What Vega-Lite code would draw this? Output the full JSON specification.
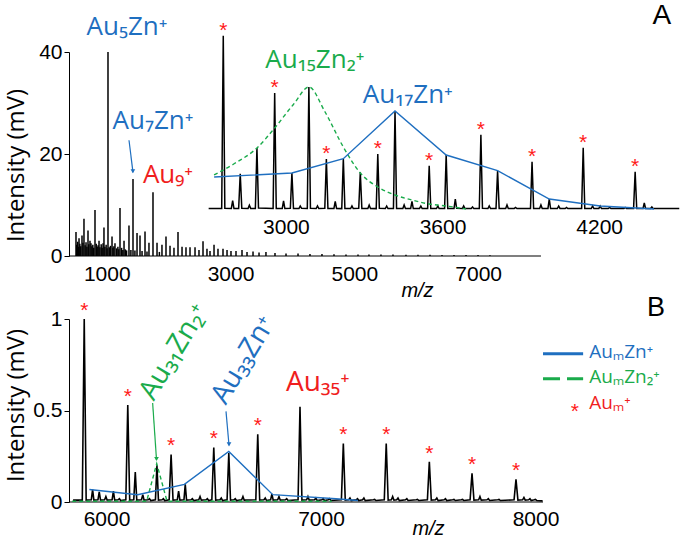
{
"$schema": "https://vega.github.io/schema/vega-lite/v6.json",
"padding": {"left": 4, "top": 1, "right": 0, "bottom": 0},
"background": "white",
"spacing": 63,
"bounds": "flush",
"config": {
  "view": {"stroke": null},
  "axis": {"labelFont": "Liberation Sans", "labelFontSize": 21, "labelColor": "black", "titleColor": "black", "domainColor": "black", "tickColor": "black", "grid": false},
  "text": {"font": "Open Sans"}
},
"vconcat": [
{
  "width": 610, "height": 204,
  "resolve": {"scale": {"x": "independent", "y": "independent"}, "axis": {"x": "independent", "y": "independent"}},
  "layer": [
    {"layer": [
      {"data": {"values": [
        {"mz":503,"h":4.7},{"mz":515,"h":2.2},{"mz":530,"h":2.8},{"mz":545,"h":1.8},{"mz":552,"h":3.5},{"mz":565,"h":2.4},{"mz":580,"h":1.9},{"mz":600,"h":4},{"mz":615,"h":2.6},{"mz":632,"h":7.3},{"mz":650,"h":2.1},{"mz":665,"h":2.7},{"mz":680,"h":1.8},{"mz":697,"h":5},{"mz":710,"h":2.3},{"mz":729,"h":3},{"mz":745,"h":2.5},{"mz":760,"h":1.9},{"mz":775,"h":2.2},{"mz":790,"h":1.6},{"mz":810,"h":9},{"mz":830,"h":2.4},{"mz":845,"h":1.8},{"mz":860,"h":2.1},{"mz":875,"h":3},{"mz":890,"h":1.7},{"mz":910,"h":2.3},{"mz":925,"h":1.6},{"mz":940,"h":2.5},{"mz":955,"h":5.6},{"mz":970,"h":1.8},{"mz":990,"h":2.2},{"mz":1005,"h":1.5},{"mz":1020,"h":40},{"mz":1040,"h":1.7},{"mz":1060,"h":2},{"mz":1085,"h":3.8},{"mz":1100,"h":1.6},{"mz":1115,"h":1.9},{"mz":1133,"h":2.5},{"mz":1160,"h":1.5},{"mz":1180,"h":1.8},{"mz":1195,"h":1.3},{"mz":1214,"h":9.4},{"mz":1240,"h":1.6},{"mz":1260,"h":1.2},{"mz":1279,"h":3},{"mz":1300,"h":1.3},{"mz":1320,"h":1.1},{"mz":1359,"h":6},{"mz":1390,"h":1.2},{"mz":1424,"h":15.1},{"mz":1455,"h":1.1},{"mz":1489,"h":4.5},{"mz":1537,"h":4},{"mz":1570,"h":1},{"mz":1618,"h":4.8},{"mz":1650,"h":0.9},{"mz":1682,"h":2.6},{"mz":1747,"h":12.5},{"mz":1812,"h":2.6},{"mz":1850,"h":0.8},{"mz":1892,"h":2.2},{"mz":1957,"h":3.8},{"mz":2022,"h":2},{"mz":2086,"h":1.6},{"mz":2151,"h":4.7},{"mz":2216,"h":1.8},{"mz":2280,"h":1.7},{"mz":2345,"h":1.7},{"mz":2426,"h":1.7},{"mz":2490,"h":1.2},{"mz":2555,"h":2.9},{"mz":2619,"h":1.4},{"mz":2668,"h":1.0},{"mz":2733,"h":2.2},{"mz":2797,"h":1.4},{"mz":2878,"h":1.4},{"mz":2943,"h":1.2},{"mz":3007,"h":1.0},{"mz":3088,"h":1.0},{"mz":3185,"h":1.2},{"mz":3266,"h":0.8},{"mz":3363,"h":0.9},{"mz":3460,"h":0.7},{"mz":3572,"h":0.8},{"mz":3718,"h":0.6},{"mz":3896,"h":0.5},{"mz":4090,"h":0.5},{"mz":4283,"h":0.4},{"mz":4477,"h":0.4},{"mz":4671,"h":0.35},{"mz":4865,"h":0.3},{"mz":5059,"h":0.3},{"mz":5236,"h":0.3},{"mz":5430,"h":0.3},{"mz":5624,"h":0.3},{"mz":5834,"h":0.25},{"mz":6028,"h":0.25},{"mz":6222,"h":0.25},{"mz":6416,"h":0.2},{"mz":6610,"h":0.2},{"mz":6804,"h":0.2},{"mz":6998,"h":0.2},{"mz":7191,"h":0.15}
      ]},
       "mark": {"type": "rule", "color": "black", "strokeWidth": 1.5},
       "encoding": {
         "x": {"field": "mz", "type": "quantitative", "scale": {"domain": [390, 10245], "nice": false, "zero": false},
               "axis": {"values": [1000, 3000, 5000, 7000], "format": "d", "domain": false, "ticks": false, "tickSize": 0, "labelPadding": 7, "title": "m/z", "titleFont": "Liberation Sans", "titleFontStyle": "italic", "titleFontSize": 20, "titleFontWeight": "normal", "titleX": 348, "titleY": 34, "titleBaseline": "middle", "titleAlign": "center"}},
         "y": {"field": "h", "type": "quantitative", "scale": {"domain": [0, 40], "nice": false},
               "axis": {"values": [0, 20, 40], "tickSize": 5, "labelPadding": 2, "title": "Intensity (mV)", "titleFont": "Open Sans", "titleFontSize": 24, "titleFontWeight": "normal", "titleX": -46, "titleY": 113, "titleAngle": 270, "titleBaseline": "alphabetic", "titleAlign": "center"}},
         "y2": {"datum": 0}
       }},
      {"data": {"values": [{"mz": 390, "mz2": 8015, "h": 0}]},
       "mark": {"type": "rule", "color": "black", "strokeWidth": 1.2},
       "encoding": {"x": {"field": "mz", "type": "quantitative"}, "x2": {"field": "mz2"}, "y": {"field": "h", "type": "quantitative"}}},
      {"data": {"values": [{"mz": 1327, "h": 44.9, "label": "Au₅Zn⁺"}, {"mz": 1747, "h": 26.5, "label": "Au₇Zn⁺"}]},
       "mark": {"type": "text", "font": "Open Sans", "fontSize": 26, "color": "#1f6fc0", "align": "center", "baseline": "middle"},
       "encoding": {"x": {"field": "mz", "type": "quantitative"}, "y": {"field": "h", "type": "quantitative"}, "text": {"field": "label"}}},
      {"data": {"values": [{"mz": 1989, "h": 15.9, "label": "Au₉⁺"}]},
       "mark": {"type": "text", "font": "Open Sans", "fontSize": 26, "color": "#f01e1e", "align": "center", "baseline": "middle"},
       "encoding": {"x": {"field": "mz", "type": "quantitative"}, "y": {"field": "h", "type": "quantitative"}, "text": {"field": "label"}}},
      {"data": {"values": [{"mz": 1359, "h": 22.7, "mz2": 1424, "h2": 16.4}]},
       "mark": {"type": "rule", "color": "#1f6fc0", "strokeWidth": 1.2},
       "encoding": {"x": {"field": "mz", "type": "quantitative"}, "y": {"field": "h", "type": "quantitative"}, "x2": {"field": "mz2"}, "y2": {"field": "h2"}}},
      {"data": {"values": [{"mz": 1422, "h": 16.6}]},
       "mark": {"type": "point", "shape": "triangle-down", "filled": true, "size": 22, "color": "#1f6fc0", "opacity": 1},
       "encoding": {"x": {"field": "mz", "type": "quantitative"}, "y": {"field": "h", "type": "quantitative"}}}
    ]},
    {"layer": [
      {"data": {"values": [
        {"mz":2704,"v":0.5},
        {"mz":2754,"v":0.5},{"mz":2760,"v":173.3},{"mz":2766,"v":0.8},
        {"mz":2791,"v":0.6},{"mz":2796,"v":8.3},{"mz":2801,"v":0.5},
        {"mz":2819,"v":0.5},{"mz":2825,"v":35.3},{"mz":2831,"v":0.7},
        {"mz":2855,"v":0.4},{"mz":2860,"v":3.7},{"mz":2865,"v":0.6},
        {"mz":2883,"v":0.5},{"mz":2889,"v":61},{"mz":2895,"v":0.9},
        {"mz":2951,"v":0.5},{"mz":2957,"v":116},{"mz":2963,"v":0.6},
        {"mz":2986,"v":0.5},{"mz":2991,"v":8},{"mz":2996,"v":0.4},
        {"mz":3017,"v":0.6},{"mz":3023,"v":36},{"mz":3029,"v":0.5},
        {"mz":3050,"v":0.4},{"mz":3055,"v":3},{"mz":3060,"v":0.7},
        {"mz":3082,"v":0.5},{"mz":3088,"v":122},{"mz":3094,"v":0.6},
        {"mz":3116,"v":0.4},{"mz":3121,"v":3},{"mz":3126,"v":0.5},
        {"mz":3149,"v":0.7},{"mz":3155,"v":50},{"mz":3161,"v":0.5},
        {"mz":3184,"v":0.5},{"mz":3189,"v":7.7},{"mz":3194,"v":0.6},
        {"mz":3214,"v":0.4},{"mz":3220,"v":50.3},{"mz":3226,"v":0.6},
        {"mz":3248,"v":0.5},{"mz":3253,"v":3},{"mz":3258,"v":0.4},
        {"mz":3279,"v":0.6},{"mz":3285,"v":36.7},{"mz":3291,"v":0.5},
        {"mz":3314,"v":0.5},{"mz":3319,"v":4},{"mz":3324,"v":0.6},
        {"mz":3346,"v":0.4},{"mz":3352,"v":55},{"mz":3358,"v":0.7},
        {"mz":3381,"v":0.5},{"mz":3386,"v":3},{"mz":3391,"v":0.5},
        {"mz":3412,"v":0.6},{"mz":3418,"v":98},{"mz":3424,"v":0.5},
        {"mz":3448,"v":0.4},{"mz":3453,"v":4},{"mz":3458,"v":0.6},
        {"mz":3478,"v":0.5},{"mz":3483,"v":7.7},{"mz":3488,"v":0.4},
        {"mz":3512,"v":0.6},{"mz":3517,"v":3},{"mz":3522,"v":0.5},
        {"mz":3543,"v":0.5},{"mz":3549,"v":43.3},{"mz":3555,"v":0.6},
        {"mz":3577,"v":0.4},{"mz":3582,"v":3},{"mz":3587,"v":0.5},
        {"mz":3608,"v":0.6},{"mz":3614,"v":54},{"mz":3620,"v":0.5},
        {"mz":3644,"v":0.5},{"mz":3649,"v":10},{"mz":3654,"v":0.7},
        {"mz":3676,"v":0.4},{"mz":3681,"v":3},{"mz":3686,"v":0.5},
        {"mz":3710,"v":0.6},{"mz":3715,"v":2},{"mz":3720,"v":0.4},
        {"mz":3741,"v":0.5},{"mz":3747,"v":74.3},{"mz":3753,"v":0.6},
        {"mz":3774,"v":0.4},{"mz":3779,"v":3},{"mz":3784,"v":0.5},
        {"mz":3805,"v":0.6},{"mz":3811,"v":38.3},{"mz":3817,"v":0.5},
        {"mz":3842,"v":0.5},{"mz":3847,"v":4},{"mz":3852,"v":0.4},
        {"mz":3875,"v":0.6},{"mz":3880,"v":1.5},{"mz":3885,"v":0.5},
        {"mz":3937,"v":0.4},{"mz":3943,"v":47.3},{"mz":3949,"v":0.6},
        {"mz":3972,"v":0.5},{"mz":3977,"v":4},{"mz":3982,"v":0.4},
        {"mz":4004,"v":0.6},{"mz":4009,"v":10},{"mz":4014,"v":0.5},
        {"mz":4040,"v":0.4},{"mz":4045,"v":3},{"mz":4050,"v":0.6},
        {"mz":4070,"v":0.5},{"mz":4075,"v":1.5},{"mz":4080,"v":0.4},
        {"mz":4133,"v":0.6},{"mz":4139,"v":61.3},{"mz":4145,"v":0.5},
        {"mz":4170,"v":0.4},{"mz":4175,"v":3},{"mz":4180,"v":0.5},
        {"mz":4199,"v":0.6},{"mz":4204,"v":3},{"mz":4209,"v":0.4},
        {"mz":4235,"v":0.5},{"mz":4240,"v":1.5},{"mz":4245,"v":0.6},
        {"mz":4295,"v":0.4},{"mz":4300,"v":1.5},{"mz":4305,"v":0.5},
        {"mz":4332,"v":0.6},{"mz":4338,"v":37.3},{"mz":4344,"v":0.5},
        {"mz":4368,"v":0.4},{"mz":4373,"v":6},{"mz":4378,"v":0.5},
        {"mz":4397,"v":0.6},{"mz":4402,"v":2},{"mz":4407,"v":0.4},
        {"mz":4507,"v":0.5}
      ]},
       "mark": {"type": "line", "color": "black", "strokeWidth": 1.5},
       "encoding": {
         "x": {"field": "mz", "type": "quantitative", "scale": {"domain": [2169, 4506], "nice": false, "zero": false},
               "axis": {"orient": "bottom", "offset": -47, "values": [3000, 3600, 4200], "format": "d", "domain": false, "ticks": false, "tickSize": 0, "labelPadding": 7, "title": null}},
         "y": {"field": "v", "type": "quantitative", "scale": {"domain": [-47, 157], "nice": false, "zero": false}, "axis": null}
       }},
      {"data": {"values": [
        {"mz":2725,"v":34},{"mz":2800,"v":45},{"mz":2889,"v":61},{"mz":2957,"v":81},{"mz":3030,"v":105},{"mz":3088,"v":122},{"mz":3150,"v":97},{"mz":3220,"v":62},{"mz":3285,"v":36},{"mz":3352,"v":22},{"mz":3418,"v":14},{"mz":3483,"v":9},{"mz":3549,"v":5},{"mz":3614,"v":3},{"mz":3690,"v":0}
      ]},
       "mark": {"type": "line", "color": "#1aab4b", "strokeWidth": 1.4, "strokeDash": [4, 3], "interpolate": "monotone"},
       "encoding": {"x": {"field": "mz", "type": "quantitative"}, "y": {"field": "v", "type": "quantitative"}}},
      {"data": {"values": [
        {"mz":2725,"v":32},{"mz":3023,"v":36},{"mz":3220,"v":50.3},{"mz":3418,"v":98},{"mz":3614,"v":54},{"mz":3811,"v":38.3},{"mz":4009,"v":10},{"mz":4204,"v":3},{"mz":4410,"v":0}
      ]},
       "mark": {"type": "line", "color": "#1f6fc0", "strokeWidth": 1.4},
       "encoding": {"x": {"field": "mz", "type": "quantitative"}, "y": {"field": "v", "type": "quantitative"}}},
      {"data": {"values": [
        {"mz":2760,"v":173.3},{"mz":2957,"v":116},{"mz":3155,"v":50},{"mz":3352,"v":55},{"mz":3549,"v":43.3},{"mz":3747,"v":74.3},{"mz":3943,"v":47.3},{"mz":4139,"v":61.3},{"mz":4338,"v":37.3}
      ]},
       "mark": {"type": "text", "text": "*", "font": "Liberation Sans", "fontSize": 21, "color": "#ff1a1a", "align": "center", "baseline": "alphabetic", "dy": 1},
       "encoding": {"x": {"field": "mz", "type": "quantitative"}, "y": {"field": "v", "type": "quantitative"}}},
      {"data": {"values": [{"mz": 3111, "v": 149, "label": "Au₁₅Zn₂⁺"}]},
       "mark": {"type": "text", "font": "Open Sans", "fontSize": 26, "color": "#1aab4b", "align": "center", "baseline": "middle"},
       "encoding": {"x": {"field": "mz", "type": "quantitative"}, "y": {"field": "v", "type": "quantitative"}, "text": {"field": "label"}}},
      {"data": {"values": [{"mz": 3467, "v": 114, "label": "Au₁₇Zn⁺"}]},
       "mark": {"type": "text", "font": "Open Sans", "fontSize": 26, "color": "#1f6fc0", "align": "center", "baseline": "middle"},
       "encoding": {"x": {"field": "mz", "type": "quantitative"}, "y": {"field": "v", "type": "quantitative"}, "text": {"field": "label"}}},
      {"data": {"values": [{"mz": 4440, "v": 193, "label": "A"}]},
       "mark": {"type": "text", "font": "Liberation Sans", "fontSize": 28, "color": "black", "align": "center", "baseline": "middle"},
       "encoding": {"x": {"field": "mz", "type": "quantitative"}, "y": {"field": "v", "type": "quantitative"}, "text": {"field": "label"}}}
    ]}
  ]
},
{
  "width": 610, "height": 183,
  "layer": [
    {"data": {"values": [
      {"mz":5844,"h":0.01},
      {"mz":5887,"h":0.01},{"mz":5896,"h":1.0},{"mz":5905,"h":0.01},
      {"mz":5929,"h":0.012},{"mz":5935,"h":0.068},{"mz":5941,"h":0.01},
      {"mz":5960,"h":0.012},{"mz":5966,"h":0.055},{"mz":5972,"h":0.01},
      {"mz":5991,"h":0.012},{"mz":5997,"h":0.03},{"mz":6003,"h":0.01},
      {"mz":6026,"h":0.012},{"mz":6032,"h":0.06},{"mz":6038,"h":0.01},
      {"mz":6054,"h":0.012},{"mz":6060,"h":0.018},{"mz":6066,"h":0.008},
      {"mz":6090,"h":0.012},{"mz":6099,"h":0.53},{"mz":6108,"h":0.01},
      {"mz":6127,"h":0.012},{"mz":6134,"h":0.164},{"mz":6141,"h":0.01},
      {"mz":6163,"h":0.012},{"mz":6169,"h":0.04},{"mz":6175,"h":0.01},
      {"mz":6194,"h":0.012},{"mz":6200,"h":0.018},{"mz":6206,"h":0.008},
      {"mz":6228,"h":0.012},{"mz":6235,"h":0.2},{"mz":6242,"h":0.01},
      {"mz":6259,"h":0.012},{"mz":6265,"h":0.018},{"mz":6271,"h":0.008},
      {"mz":6292,"h":0.012},{"mz":6301,"h":0.26},{"mz":6310,"h":0.01},
      {"mz":6330,"h":0.012},{"mz":6336,"h":0.06},{"mz":6342,"h":0.01},
      {"mz":6361,"h":0.012},{"mz":6367,"h":0.096},{"mz":6373,"h":0.01},
      {"mz":6394,"h":0.012},{"mz":6400,"h":0.018},{"mz":6406,"h":0.008},
      {"mz":6430,"h":0.012},{"mz":6436,"h":0.03},{"mz":6442,"h":0.01},
      {"mz":6464,"h":0.012},{"mz":6470,"h":0.018},{"mz":6476,"h":0.008},
      {"mz":6491,"h":0.012},{"mz":6500,"h":0.298},{"mz":6509,"h":0.01},
      {"mz":6529,"h":0.012},{"mz":6535,"h":0.022},{"mz":6541,"h":0.008},
      {"mz":6562,"h":0.012},{"mz":6570,"h":0.268},{"mz":6578,"h":0.01},
      {"mz":6594,"h":0.012},{"mz":6600,"h":0.018},{"mz":6606,"h":0.008},
      {"mz":6630,"h":0.012},{"mz":6636,"h":0.03},{"mz":6642,"h":0.01},
      {"mz":6696,"h":0.012},{"mz":6705,"h":0.37},{"mz":6714,"h":0.01},
      {"mz":6734,"h":0.012},{"mz":6740,"h":0.022},{"mz":6746,"h":0.008},
      {"mz":6765,"h":0.012},{"mz":6771,"h":0.044},{"mz":6777,"h":0.01},
      {"mz":6798,"h":0.012},{"mz":6804,"h":0.03},{"mz":6810,"h":0.01},
      {"mz":6834,"h":0.012},{"mz":6840,"h":0.018},{"mz":6846,"h":0.008},
      {"mz":6893,"h":0.012},{"mz":6902,"h":0.52},{"mz":6911,"h":0.01},
      {"mz":6933,"h":0.012},{"mz":6939,"h":0.03},{"mz":6945,"h":0.01},
      {"mz":6970,"h":0.012},{"mz":6976,"h":0.022},{"mz":6982,"h":0.008},
      {"mz":7004,"h":0.012},{"mz":7010,"h":0.018},{"mz":7016,"h":0.008},
      {"mz":7034,"h":0.012},{"mz":7040,"h":0.018},{"mz":7046,"h":0.008},
      {"mz":7095,"h":0.012},{"mz":7104,"h":0.32},{"mz":7113,"h":0.01},
      {"mz":7129,"h":0.012},{"mz":7135,"h":0.022},{"mz":7141,"h":0.008},
      {"mz":7164,"h":0.012},{"mz":7170,"h":0.018},{"mz":7176,"h":0.008},
      {"mz":7194,"h":0.012},{"mz":7200,"h":0.022},{"mz":7206,"h":0.008},
      {"mz":7244,"h":0.012},{"mz":7250,"h":0.014},{"mz":7256,"h":0.008},
      {"mz":7295,"h":0.012},{"mz":7304,"h":0.32},{"mz":7313,"h":0.01},
      {"mz":7328,"h":0.012},{"mz":7334,"h":0.03},{"mz":7340,"h":0.01},
      {"mz":7353,"h":0.012},{"mz":7359,"h":0.022},{"mz":7365,"h":0.008},
      {"mz":7394,"h":0.012},{"mz":7400,"h":0.018},{"mz":7406,"h":0.008},
      {"mz":7444,"h":0.012},{"mz":7450,"h":0.014},{"mz":7456,"h":0.008},
      {"mz":7496,"h":0.012},{"mz":7505,"h":0.22},{"mz":7514,"h":0.01},
      {"mz":7534,"h":0.012},{"mz":7540,"h":0.022},{"mz":7546,"h":0.008},
      {"mz":7574,"h":0.012},{"mz":7580,"h":0.018},{"mz":7586,"h":0.008},
      {"mz":7614,"h":0.012},{"mz":7620,"h":0.014},{"mz":7626,"h":0.008},
      {"mz":7654,"h":0.012},{"mz":7660,"h":0.014},{"mz":7666,"h":0.008},
      {"mz":7695,"h":0.012},{"mz":7704,"h":0.157},{"mz":7713,"h":0.01},
      {"mz":7735,"h":0.012},{"mz":7741,"h":0.03},{"mz":7747,"h":0.01},
      {"mz":7774,"h":0.012},{"mz":7780,"h":0.018},{"mz":7786,"h":0.008},
      {"mz":7824,"h":0.012},{"mz":7830,"h":0.014},{"mz":7836,"h":0.008},
      {"mz":7900,"h":0.012},{"mz":7909,"h":0.124},{"mz":7918,"h":0.01},
      {"mz":7940,"h":0.012},{"mz":7946,"h":0.025},{"mz":7952,"h":0.01},
      {"mz":7968,"h":0.012},{"mz":7974,"h":0.018},{"mz":7980,"h":0.008},
      {"mz":7994,"h":0.012},{"mz":8000,"h":0.014},{"mz":8006,"h":0.008},
      {"mz":8033,"h":0.006}
    ]},
     "mark": {"type": "line", "color": "black", "strokeWidth": 1.6},
     "encoding": {
       "x": {"field": "mz", "type": "quantitative", "scale": {"domain": [5825, 8669], "nice": false, "zero": false},
             "axis": {"values": [6000, 7000, 8000], "format": "d", "domain": false, "ticks": false, "tickSize": 0, "labelPadding": 6, "title": "m/z", "titleFont": "Liberation Sans", "titleFontStyle": "italic", "titleFontSize": 20, "titleFontWeight": "normal", "titleX": 359, "titleY": 26, "titleBaseline": "middle", "titleAlign": "center"}},
       "y": {"field": "h", "type": "quantitative", "scale": {"domain": [0, 1], "nice": false},
             "axis": {"values": [0, 0.5, 1], "format": "~g", "tickSize": 5, "labelPadding": 2, "title": "Intensity (mV)", "titleFont": "Open Sans", "titleFontSize": 24, "titleFontWeight": "normal", "titleX": -46, "titleY": 86, "titleAngle": 270, "titleBaseline": "alphabetic", "titleAlign": "center"}}
     }},
    {"data": {"values": [{"mz": 5825, "mz2": 8035, "h": 0}]},
     "mark": {"type": "rule", "color": "black", "strokeWidth": 1.2},
     "encoding": {"x": {"field": "mz", "type": "quantitative"}, "x2": {"field": "mz2"}, "y": {"field": "h", "type": "quantitative"}}},
    {"data": {"values": [
      {"mz":5840,"h":0.004},{"mz":6187,"h":0.004},{"mz":6234,"h":0.21},{"mz":6282,"h":0.004},{"mz":7050,"h":0.004}
    ]},
     "mark": {"type": "line", "color": "#1aab4b", "strokeWidth": 1.4, "strokeDash": [4, 3]},
     "encoding": {"x": {"field": "mz", "type": "quantitative"}, "y": {"field": "h", "type": "quantitative"}}},
    {"data": {"values": [
      {"mz":5920,"h":0.068},{"mz":6145,"h":0.04},{"mz":6363,"h":0.096},{"mz":6570,"h":0.276},{"mz":6775,"h":0.04},{"mz":7070,"h":0.018},{"mz":7172,"h":0.008}
    ]},
     "mark": {"type": "line", "color": "#1f6fc0", "strokeWidth": 1.4},
     "encoding": {"x": {"field": "mz", "type": "quantitative"}, "y": {"field": "h", "type": "quantitative"}}},
    {"data": {"values": [
      {"mz":5896,"h":1.0},{"mz":6099,"h":0.53},{"mz":6301,"h":0.26},{"mz":6500,"h":0.298},{"mz":6705,"h":0.37},{"mz":7104,"h":0.32},{"mz":7304,"h":0.32},{"mz":7505,"h":0.22},{"mz":7704,"h":0.157},{"mz":7909,"h":0.124}
    ]},
     "mark": {"type": "text", "text": "*", "font": "Liberation Sans", "fontSize": 21, "color": "#ff1a1a", "align": "center", "baseline": "alphabetic", "dy": -2},
     "encoding": {"x": {"field": "mz", "type": "quantitative"}, "y": {"field": "h", "type": "quantitative"}}},
    {"data": {"values": [{"mz": 6316, "h": 0.82, "label": "Au₃₁Zn₂⁺"}]},
     "mark": {"type": "text", "font": "Open Sans", "fontSize": 28, "color": "#1aab4b", "align": "center", "baseline": "middle", "angle": -59},
     "encoding": {"x": {"field": "mz", "type": "quantitative"}, "y": {"field": "h", "type": "quantitative"}, "text": {"field": "label"}}},
    {"data": {"values": [{"mz": 6640, "h": 0.775, "label": "Au₃₃Zn⁺"}]},
     "mark": {"type": "text", "font": "Open Sans", "fontSize": 28, "color": "#1f6fc0", "align": "center", "baseline": "middle", "angle": -59},
     "encoding": {"x": {"field": "mz", "type": "quantitative"}, "y": {"field": "h", "type": "quantitative"}, "text": {"field": "label"}}},
    {"data": {"values": [{"mz": 6215, "h": 0.541, "mz2": 6233, "h2": 0.23}]},
     "mark": {"type": "rule", "color": "#1aab4b", "strokeWidth": 1.2},
     "encoding": {"x": {"field": "mz", "type": "quantitative"}, "y": {"field": "h", "type": "quantitative"}, "x2": {"field": "mz2"}, "y2": {"field": "h2"}}},
    {"data": {"values": [{"mz": 6233, "h": 0.235}]},
     "mark": {"type": "point", "shape": "triangle-down", "filled": true, "size": 22, "color": "#1aab4b", "opacity": 1},
     "encoding": {"x": {"field": "mz", "type": "quantitative"}, "y": {"field": "h", "type": "quantitative"}}},
    {"data": {"values": [{"mz": 6557, "h": 0.495, "mz2": 6571, "h2": 0.31}]},
     "mark": {"type": "rule", "color": "#1f6fc0", "strokeWidth": 1.2},
     "encoding": {"x": {"field": "mz", "type": "quantitative"}, "y": {"field": "h", "type": "quantitative"}, "x2": {"field": "mz2"}, "y2": {"field": "h2"}}},
    {"data": {"values": [{"mz": 6571, "h": 0.315}]},
     "mark": {"type": "point", "shape": "triangle-down", "filled": true, "size": 22, "color": "#1f6fc0", "opacity": 1},
     "encoding": {"x": {"field": "mz", "type": "quantitative"}, "y": {"field": "h", "type": "quantitative"}}},
    {"data": {"values": [{"mz": 6985, "h": 0.652, "label": "Au₃₅⁺"}]},
     "mark": {"type": "text", "font": "Open Sans", "fontSize": 28, "color": "#f01e1e", "align": "center", "baseline": "middle"},
     "encoding": {"x": {"field": "mz", "type": "quantitative"}, "y": {"field": "h", "type": "quantitative"}, "text": {"field": "label"}}},
    {"data": {"values": [{"mz": 8562, "h": 1.058, "label": "B"}]},
     "mark": {"type": "text", "font": "Liberation Sans", "fontSize": 27, "color": "black", "align": "center", "baseline": "middle"},
     "encoding": {"x": {"field": "mz", "type": "quantitative"}, "y": {"field": "h", "type": "quantitative"}, "text": {"field": "label"}}},
    {"data": {"values": [{"mz": 8035, "h": 0.81}, {"mz": 8222, "h": 0.81}]},
     "mark": {"type": "line", "color": "#1f6fc0", "strokeWidth": 3},
     "encoding": {"x": {"field": "mz", "type": "quantitative"}, "y": {"field": "h", "type": "quantitative"}}},
    {"data": {"values": [{"mz": 8035, "h": 0.674}, {"mz": 8222, "h": 0.674}]},
     "mark": {"type": "line", "color": "#1aab4b", "strokeWidth": 3, "strokeDash": [17, 7]},
     "encoding": {"x": {"field": "mz", "type": "quantitative"}, "y": {"field": "h", "type": "quantitative"}}},
    {"data": {"values": [{"mz": 8183, "h": 0.46}]},
     "mark": {"type": "text", "text": "*", "font": "Liberation Sans", "fontSize": 21, "color": "#ff1a1a", "align": "center", "baseline": "alphabetic"},
     "encoding": {"x": {"field": "mz", "type": "quantitative"}, "y": {"field": "h", "type": "quantitative"}}},
    {"data": {"values": [{"mz": 8250, "h": 0.82, "label": "AuₘZn⁺"}]},
     "mark": {"type": "text", "font": "Open Sans", "fontSize": 19, "color": "#1f6fc0", "align": "left", "baseline": "middle"},
     "encoding": {"x": {"field": "mz", "type": "quantitative"}, "y": {"field": "h", "type": "quantitative"}, "text": {"field": "label"}}},
    {"data": {"values": [{"mz": 8250, "h": 0.685, "label": "AuₘZn₂⁺"}]},
     "mark": {"type": "text", "font": "Open Sans", "fontSize": 19, "color": "#1aab4b", "align": "left", "baseline": "middle"},
     "encoding": {"x": {"field": "mz", "type": "quantitative"}, "y": {"field": "h", "type": "quantitative"}, "text": {"field": "label"}}},
    {"data": {"values": [{"mz": 8250, "h": 0.54, "label": "Auₘ⁺"}]},
     "mark": {"type": "text", "font": "Open Sans", "fontSize": 19, "color": "#f01e1e", "align": "left", "baseline": "middle"},
     "encoding": {"x": {"field": "mz", "type": "quantitative"}, "y": {"field": "h", "type": "quantitative"}, "text": {"field": "label"}}}
  ]
}
]
}
